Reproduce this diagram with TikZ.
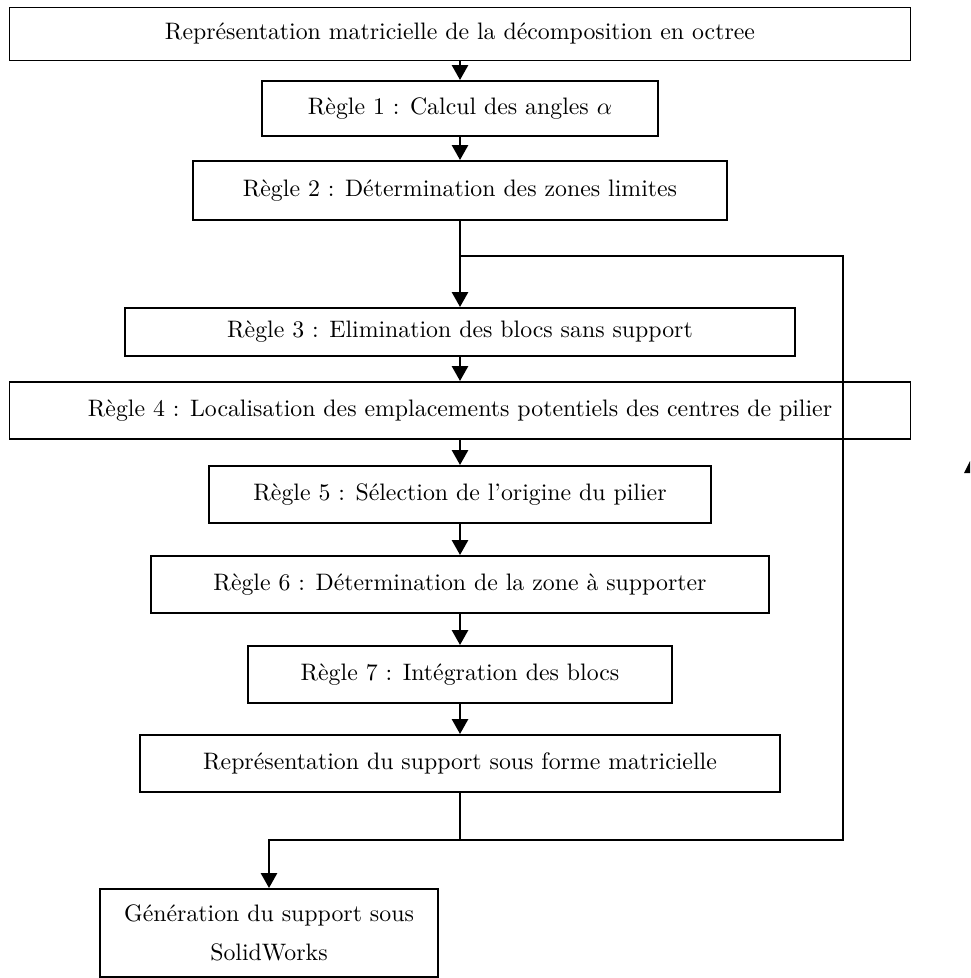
\documentclass[tikz,border=0pt]{standalone}
\usetikzlibrary{arrows.meta}
\tikzset{
  bloc/.style={draw, line width=0.8pt, inner sep=0pt, align=center},
  taille/.style 2 args={minimum width=#1*0.42pt, minimum height=#2*0.42pt},
  fleche/.style={line width=1.2pt, -{Triangle[width=6.7pt,length=6.3pt]}},
  ligne/.style={line width=1.2pt}
}
\begin{document}
\begin{tikzpicture}[x=0.42pt, y=-0.42pt]
    \useasboundingbox (0,0) rectangle (970,978);

    % les blocs
    \node[bloc, taille={901}{53}] (b1) at (460,34) {Représentation matricielle de la décomposition en octree};
    \node[bloc, taille={396}{55}] (b2) at (460,108.5) {Règle 1 : Calcul des angles $\alpha$};
    \node[bloc, taille={534}{59}] (b3) at (460,190.5) {Règle 2 : Détermination des zones limites};
    \node[bloc, taille={670}{48}] (b4) at (460,332) {Règle 3 : Elimination des blocs sans support};
    \node[bloc, taille={901}{57}] (b5) at (460,410.5) {Règle 4 : Localisation des emplacements potentiels des centres de pilier};
    \node[bloc, taille={502}{57}] (b6) at (460,494.5) {Règle 5 : Sélection de l’origine du pilier};
    \node[bloc, taille={618}{57}] (b7) at (460,584.5) {Règle 6 : Détermination de la zone à supporter};
    \node[bloc, taille={424}{57}] (b8) at (460,674.5) {Règle 7 : Intégration des blocs};
    \node[bloc, taille={640}{57}] (b9) at (460,763.5) {Représentation du support sous forme matricielle};
    \node[bloc, taille={338}{88}] (b10) at (269,933) {Génération du support sous\\[4.4pt] SolidWorks};

    % points de la boucle
    \coordinate (entree) at (460,256);
    \coordinate (retour) at (843,256);
    \coordinate (sortie) at (460,840);

    % liaisons
    \draw[fleche] (b1) -- (b2);
    \draw[fleche] (b2) -- (b3);
    \draw[ligne] (b3) -- (entree);
    \draw[fleche] (entree) -- (b4);
    \draw[fleche] (b4) -- (b5);
    \draw[fleche] (b5) -- (b6);
    \draw[fleche] (b6) -- (b7);
    \draw[fleche] (b7) -- (b8);
    \draw[fleche] (b8) -- (b9);

    % retour
    \draw[ligne] (b9) -- (sortie) -| (retour) -- (entree);
    \draw[fleche] (sortie) -| (b10);

    \fill (964,473) -- (970,461) -- (970,473) -- cycle;
\end{tikzpicture}
\end{document}
